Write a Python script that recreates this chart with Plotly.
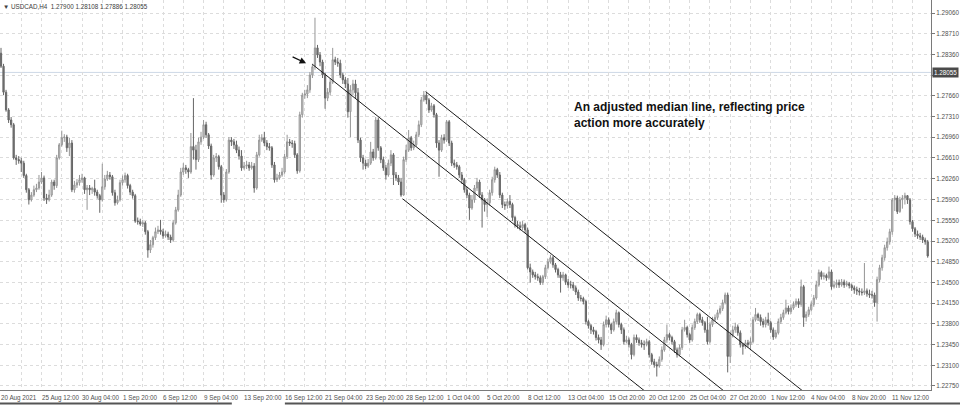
import plotly.graph_objects as go

# ---------------- data (USDCAD, H4) ----------------
first_open = 1.2838
close = [1.2816,1.2772,1.2742,1.2725,1.2717,1.2661,1.2658,1.2656,1.2652,1.2631,
1.2607,1.2590,1.2598,1.2607,1.2610,1.2620,1.2627,1.2593,1.2590,1.2598,
1.2620,1.2614,1.2661,1.2683,1.2695,1.2696,1.2678,1.2686,1.2607,1.2615,
1.2619,1.2624,1.2627,1.2607,1.2610,1.2607,1.2609,1.2603,1.2597,1.2590,
1.2612,1.2625,1.2632,1.2629,1.2602,1.2585,1.2590,1.2619,1.2624,1.2631,
1.2614,1.2603,1.2597,1.2554,1.2553,1.2549,1.2551,1.2536,1.2505,1.2514,
1.2526,1.2536,1.2539,1.2536,1.2529,1.2532,1.2527,1.2522,1.2551,1.2573,
1.2598,1.2637,1.2644,1.2641,1.2637,1.2680,1.2674,1.2658,1.2688,1.2696,
1.2717,1.2700,1.2681,1.2632,1.2661,1.2663,1.2646,1.2598,1.2590,1.2637,
1.2691,1.2688,1.2683,1.2674,1.2664,1.2644,1.2647,1.2649,1.2644,1.2647,
1.2610,1.2666,1.2691,1.2695,1.2686,1.2680,1.2678,1.2649,1.2624,1.2627,
1.2632,1.2637,1.2663,1.2688,1.2686,1.2685,1.2666,1.2639,1.2734,1.2767,
1.2769,1.2776,1.2801,1.2815,1.2847,1.2835,1.2823,1.2801,1.2762,1.2772,
1.2789,1.2827,1.2823,1.2821,1.2801,1.2793,1.2786,1.2739,1.2776,1.2786,
1.2771,1.2691,1.2661,1.2652,1.2647,1.2652,1.2671,1.2661,1.2725,1.2678,
1.2658,1.2644,1.2632,1.2652,1.2666,1.2632,1.2627,1.2620,1.2598,1.2658,
1.2674,1.2695,1.2678,1.2683,1.2700,1.2717,1.2759,1.2767,1.2759,1.2742,
1.2749,1.2734,1.2686,1.2674,1.2695,1.2691,1.2722,1.2686,1.2652,1.2649,
1.2646,1.2632,1.2624,1.2607,1.2598,1.2576,1.2590,1.2610,1.2620,1.2598,
1.2590,1.2582,1.2585,1.2602,1.2624,1.2641,1.2632,1.2598,1.2582,1.2580,
1.2587,1.2582,1.2560,1.2548,1.2546,1.2543,1.2548,1.2539,1.2475,1.2468,
1.2463,1.2460,1.2458,1.2450,1.2460,1.2475,1.2485,1.2492,1.2480,1.2472,
1.2463,1.2458,1.2463,1.2451,1.2446,1.2446,1.2441,1.2434,1.2424,1.2423,
1.2418,1.2384,1.2377,1.2370,1.2367,1.2357,1.2353,1.2345,1.2379,1.2387,
1.2379,1.2370,1.2384,1.2399,1.2379,1.2370,1.2350,1.2353,1.2345,1.2328,
1.2357,1.2353,1.2348,1.2345,1.2345,1.2350,1.2328,1.2316,1.2311,1.2309,
1.2320,1.2336,1.2353,1.2362,1.2357,1.2350,1.2336,1.2328,1.2340,1.2370,
1.2374,1.2362,1.2353,1.2374,1.2384,1.2396,1.2387,1.2382,1.2370,1.2350,
1.2379,1.2387,1.2391,1.2399,1.2406,1.2416,1.2429,1.2325,1.2362,1.2370,
1.2375,1.2365,1.2345,1.2342,1.2348,1.2345,1.2350,1.2387,1.2396,1.2391,
1.2384,1.2379,1.2387,1.2382,1.2370,1.2358,1.2365,1.2384,1.2391,1.2399,
1.2407,1.2401,1.2407,1.2413,1.2418,1.2413,1.2443,1.2391,1.2396,1.2404,
1.2413,1.2424,1.2446,1.2467,1.2460,1.2462,1.2458,1.2468,1.2443,1.2446,
1.2450,1.2446,1.2451,1.2446,1.2448,1.2445,1.2441,1.2438,1.2436,1.2434,
1.2433,1.2436,1.2431,1.2429,1.2429,1.2416,1.2455,1.2475,1.2492,1.2509,
1.2519,1.2536,1.2590,1.2593,1.2570,1.2590,1.2593,1.2597,1.2590,1.2553,
1.2541,1.2532,1.2529,1.2527,1.2522,1.2519,1.2495]

high = [1.2847,1.2820,1.2776,1.2745,1.2730,1.2720,1.2666,1.2664,1.2661,1.2656,
1.2634,1.2610,1.2603,1.2614,1.2617,1.2632,1.2637,1.2631,1.2600,1.2607,
1.2624,1.2624,1.2666,1.2686,1.2707,1.2701,1.2700,1.2695,1.2691,1.2622,
1.2625,1.2632,1.2634,1.2629,1.2615,1.2615,1.2612,1.2624,1.2607,1.2600,
1.2651,1.2632,1.2639,1.2637,1.2632,1.2607,1.2597,1.2624,1.2631,1.2636,
1.2634,1.2617,1.2607,1.2600,1.2560,1.2558,1.2556,1.2554,1.2539,1.2522,
1.2529,1.2543,1.2546,1.2556,1.2541,1.2538,1.2536,1.2531,1.2556,1.2578,
1.2607,1.2644,1.2652,1.2649,1.2644,1.2703,1.2762,1.2683,1.2695,1.2705,
1.2725,1.2722,1.2703,1.2685,1.2666,1.2669,1.2666,1.2649,1.2603,1.2642,
1.2696,1.2696,1.2693,1.2690,1.2680,1.2674,1.2654,1.2656,1.2654,1.2654,
1.2652,1.2671,1.2700,1.2701,1.2705,1.2691,1.2686,1.2681,1.2654,1.2634,
1.2637,1.2644,1.2668,1.2700,1.2693,1.2691,1.2690,1.2669,1.2739,1.2771,
1.2776,1.2784,1.2806,1.2820,1.2898,1.2852,1.2840,1.2827,1.2805,1.2779,
1.2796,1.2847,1.2832,1.2830,1.2827,1.2805,1.2798,1.2796,1.2784,1.2793,
1.2793,1.2779,1.2695,1.2666,1.2658,1.2659,1.2688,1.2676,1.2730,1.2729,
1.2681,1.2663,1.2649,1.2658,1.2674,1.2669,1.2637,1.2632,1.2627,1.2663,
1.2683,1.2708,1.2698,1.2690,1.2705,1.2724,1.2764,1.2774,1.2772,1.2762,
1.2754,1.2752,1.2737,1.2691,1.2700,1.2701,1.2725,1.2725,1.2690,1.2658,
1.2654,1.2649,1.2637,1.2627,1.2612,1.2602,1.2598,1.2615,1.2627,1.2624,
1.2603,1.2593,1.2592,1.2607,1.2629,1.2646,1.2644,1.2637,1.2602,1.2587,
1.2592,1.2598,1.2585,1.2563,1.2554,1.2553,1.2554,1.2551,1.2543,1.2482,
1.2472,1.2468,1.2465,1.2462,1.2463,1.2480,1.2490,1.2497,1.2495,1.2483,
1.2475,1.2468,1.2468,1.2465,1.2456,1.2453,1.2451,1.2445,1.2438,1.2429,
1.2426,1.2421,1.2387,1.2380,1.2375,1.2370,1.2362,1.2358,1.2384,1.2394,
1.2391,1.2382,1.2389,1.2404,1.2401,1.2382,1.2374,1.2360,1.2357,1.2348,
1.2362,1.2362,1.2357,1.2353,1.2352,1.2355,1.2353,1.2331,1.2321,1.2316,
1.2325,1.2342,1.2358,1.2379,1.2365,1.2360,1.2353,1.2340,1.2345,1.2375,
1.2387,1.2377,1.2365,1.2379,1.2389,1.2399,1.2399,1.2392,1.2385,1.2392,
1.2384,1.2392,1.2396,1.2404,1.2411,1.2421,1.2433,1.2433,1.2367,1.2377,
1.2382,1.2379,1.2369,1.2348,1.2353,1.2353,1.2357,1.2392,1.2407,1.2399,
1.2396,1.2389,1.2392,1.2399,1.2385,1.2374,1.2370,1.2389,1.2397,1.2404,
1.2421,1.2411,1.2413,1.2418,1.2423,1.2423,1.2455,1.2446,1.2401,1.2409,
1.2418,1.2429,1.2453,1.2472,1.2470,1.2467,1.2465,1.2477,1.2472,1.2453,
1.2455,1.2455,1.2456,1.2455,1.2453,1.2451,1.2448,1.2445,1.2443,1.2441,
1.2440,1.2483,1.2440,1.2438,1.2436,1.2433,1.2460,1.2480,1.2497,1.2514,
1.2526,1.2541,1.2593,1.2598,1.2597,1.2595,1.2598,1.2602,1.2598,1.2593,
1.2556,1.2544,1.2538,1.2534,1.2531,1.2526,1.2522]

low = [1.2813,1.2767,1.2739,1.2720,1.2712,1.2658,1.2649,1.2651,1.2637,1.2627,
1.2602,1.2582,1.2587,1.2595,1.2603,1.2607,1.2617,1.2588,1.2583,1.2587,
1.2595,1.2607,1.2610,1.2658,1.2680,1.2688,1.2671,1.2664,1.2603,1.2602,
1.2610,1.2614,1.2619,1.2600,1.2573,1.2598,1.2600,1.2597,1.2592,1.2568,
1.2587,1.2607,1.2622,1.2624,1.2597,1.2580,1.2582,1.2587,1.2614,1.2619,
1.2609,1.2598,1.2592,1.2551,1.2548,1.2546,1.2544,1.2531,1.2492,1.2500,
1.2509,1.2522,1.2532,1.2531,1.2524,1.2526,1.2522,1.2517,1.2519,1.2548,
1.2570,1.2595,1.2632,1.2634,1.2627,1.2634,1.2658,1.2641,1.2654,1.2683,
1.2693,1.2695,1.2676,1.2624,1.2629,1.2654,1.2641,1.2585,1.2585,1.2587,
1.2634,1.2681,1.2676,1.2669,1.2658,1.2639,1.2641,1.2642,1.2639,1.2641,
1.2602,1.2607,1.2663,1.2688,1.2681,1.2674,1.2673,1.2644,1.2619,1.2620,
1.2624,1.2629,1.2634,1.2659,1.2681,1.2678,1.2661,1.2634,1.2636,1.2729,
1.2761,1.2762,1.2771,1.2796,1.2810,1.2830,1.2816,1.2796,1.2744,1.2757,
1.2767,1.2786,1.2818,1.2815,1.2796,1.2786,1.2779,1.2729,1.2696,1.2767,
1.2762,1.2686,1.2654,1.2641,1.2642,1.2644,1.2649,1.2656,1.2658,1.2673,
1.2652,1.2639,1.2624,1.2629,1.2647,1.2615,1.2622,1.2615,1.2595,1.2597,
1.2654,1.2671,1.2673,1.2674,1.2680,1.2696,1.2713,1.2756,1.2752,1.2737,
1.2739,1.2729,1.2678,1.2629,1.2671,1.2685,1.2688,1.2681,1.2647,1.2644,
1.2641,1.2627,1.2617,1.2602,1.2593,1.2556,1.2573,1.2585,1.2605,1.2593,
1.2543,1.2570,1.2561,1.2580,1.2597,1.2619,1.2627,1.2593,1.2576,1.2573,
1.2575,1.2576,1.2554,1.2543,1.2541,1.2538,1.2539,1.2534,1.2472,1.2450,
1.2458,1.2455,1.2453,1.2446,1.2446,1.2456,1.2472,1.2482,1.2475,1.2467,
1.2458,1.2433,1.2453,1.2446,1.2441,1.2440,1.2436,1.2429,1.2419,1.2418,
1.2413,1.2379,1.2372,1.2363,1.2362,1.2352,1.2347,1.2336,1.2342,1.2374,
1.2374,1.2363,1.2367,1.2379,1.2374,1.2363,1.2345,1.2347,1.2340,1.2320,
1.2325,1.2348,1.2343,1.2340,1.2336,1.2342,1.2323,1.2311,1.2306,1.2291,
1.2306,1.2316,1.2333,1.2348,1.2352,1.2345,1.2331,1.2323,1.2325,1.2336,
1.2367,1.2357,1.2348,1.2350,1.2370,1.2380,1.2382,1.2377,1.2365,1.2345,
1.2347,1.2375,1.2384,1.2387,1.2396,1.2402,1.2413,1.2298,1.2314,1.2357,
1.2365,1.2360,1.2340,1.2328,1.2338,1.2340,1.2336,1.2347,1.2384,1.2385,
1.2377,1.2374,1.2374,1.2377,1.2365,1.2353,1.2355,1.2362,1.2380,1.2387,
1.2396,1.2396,1.2397,1.2404,1.2409,1.2407,1.2409,1.2375,1.2384,1.2392,
1.2401,1.2409,1.2421,1.2443,1.2455,1.2455,1.2453,1.2455,1.2438,1.2440,
1.2441,1.2441,1.2443,1.2441,1.2443,1.2440,1.2436,1.2431,1.2429,1.2428,
1.2428,1.2429,1.2426,1.2424,1.2423,1.2409,1.2384,1.2450,1.2470,1.2487,
1.2504,1.2514,1.2531,1.2571,1.2566,1.2568,1.2575,1.2582,1.2583,1.2548,
1.2536,1.2527,1.2524,1.2522,1.2517,1.2514,1.2492]

open_ = [first_open] + close[:-1]
bars = list(range(len(close)))

# time axis labels (one every 16 H4 bars)
date_label_bars = [0, 16, 32, 48, 64, 80, 96, 112, 128, 144, 160, 176,
                   192, 208, 224, 240, 256, 272, 288, 304, 320, 336, 352]
date_labels = ["20 Aug 2021", "25 Aug 12:00", "30 Aug 04:00", "1 Sep 20:00",
               "6 Sep 12:00", "9 Sep 04:00", "13 Sep 20:00", "16 Sep 12:00",
               "21 Sep 04:00", "23 Sep 20:00", "28 Sep 12:00", "1 Oct 04:00",
               "5 Oct 20:00", "8 Oct 12:00", "13 Oct 04:00", "15 Oct 20:00",
               "20 Oct 12:00", "25 Oct 04:00", "27 Oct 20:00", "1 Nov 12:00",
               "4 Nov 04:00", "8 Nov 20:00", "11 Nov 12:00"]
grid_bars = list(range(0, 368, 8))

price_ticks = [1.2275, 1.2310, 1.2345, 1.2380, 1.2415, 1.2450, 1.2485, 1.2520,
               1.2555, 1.2590, 1.2626, 1.2661, 1.2696, 1.2731, 1.2766, 1.2801,
               1.2836, 1.2871, 1.2906]
price_tick_text = ["1.22750", "1.23100", "1.23450", "1.23800", "1.24150",
                   "1.24500", "1.24850", "1.25200", "1.25550", "1.25900",
                   "1.26260", "1.26610", "1.26960", "1.27310", "1.27660", "",
                   "1.28360", "1.28710", "1.29060"]
last_price = 1.28055
header = "\u25BC USDCAD,H4  1.27900 1.28108 1.27886 1.28055"

# adjusted median line (pitchfork): anchor bar, anchor price, common slope per bar
pf_slope = -0.000340
pf_anchors = {"median": (122.95, 1.28193), "upper": (167.7, 1.27730), "lower": (158.6, 1.25917)}
pf_length = 220

arrow_tip = (120.5, 1.28210)
note_pos = (225.5, 1.27620)
note_text = "<b>An adjusted median line, reflecting price<br>action more accurately</b>"

FONT = "Liberation Sans"
LBL = "#505050"
GRID = "#dcdcdc"

fig = go.Figure()
fig.add_trace(go.Candlestick(
    x=bars, open=open_, high=high, low=low, close=close,
    increasing=dict(line=dict(color="#959595", width=1), fillcolor="#d6d6d6"),
    decreasing=dict(line=dict(color="#666666", width=1), fillcolor="#777777"),
    whiskerwidth=0, showlegend=False, hoverinfo="skip"))

for name, (b0, p0) in pf_anchors.items():
    fig.add_trace(go.Scatter(
        x=[b0, b0 + pf_length], y=[p0, p0 + pf_slope * pf_length],
        mode="lines", line=dict(color="#1a1a1a", width=1),
        showlegend=False, hoverinfo="skip"))

shapes = [
    dict(type="line", xref="paper", x0=0, x1=1, yref="y", y0=last_price, y1=last_price,
         line=dict(color="#cdd8e6", width=1), layer="below"),
    dict(type="line", xref="paper", x0=0, x1=0.249, yref="paper", y0=-0.0346, y1=-0.0346,
         line=dict(color="#555555", width=2)),
    dict(type="line", xref="paper", x0=0.306, x1=1.04, yref="paper", y0=-0.0346, y1=-0.0346,
         line=dict(color="#555555", width=2)),
]

annotations = []
for b, t in zip(date_label_bars, date_labels):
    annotations.append(dict(x=b, xref="x", y=-0.004, yref="paper", text=t,
                            showarrow=False, xanchor="left", yanchor="top",
                            font=dict(family=FONT, size=6.3, color=LBL), xshift=-2))
annotations.append(dict(x=0, xref="paper", y=1, yref="paper", text=header,
                        showarrow=False, xanchor="left", yanchor="top", xshift=1, yshift=-1,
                        font=dict(family=FONT, size=6.3, color="#404040")))
annotations.append(dict(x=1, xref="paper", y=last_price, yref="y", text="1.28055",
                        showarrow=False, xanchor="left", yanchor="middle", xshift=1,
                        bgcolor="#4a4a4a", borderpad=1,
                        font=dict(family=FONT, size=6.3, color="white")))
annotations.append(dict(x=arrow_tip[0], y=arrow_tip[1], xref="x", yref="y", text="",
                        showarrow=True, ax=-15, ay=-7, arrowhead=2, arrowsize=1,
                        arrowwidth=1.3, arrowcolor="#111111"))
annotations.append(dict(x=note_pos[0], y=note_pos[1], xref="x", yref="y", text=note_text,
                        showarrow=False, xanchor="left", yanchor="top", align="left",
                        font=dict(family=FONT, size=12, color="#111111")))

fig.update_layout(
    width=960, height=405,
    margin=dict(l=0, r=29, t=0, b=15),
    paper_bgcolor="white", plot_bgcolor="white",
    shapes=shapes, annotations=annotations,
    xaxis=dict(range=[-0.395, 367.3], tickvals=grid_bars, showticklabels=False,
               showgrid=True, gridcolor=GRID, griddash="dot", gridwidth=1,
               zeroline=False, showline=True, linecolor="#7a7a7a", linewidth=1,
               rangeslider=dict(visible=False), fixedrange=True),
    yaxis=dict(side="right", range=[1.22682, 1.29280], tickvals=price_ticks,
               ticktext=price_tick_text, showgrid=True, gridcolor=GRID,
               griddash="dot", gridwidth=1, zeroline=False, showline=True,
               linecolor="#7a7a7a", linewidth=1, ticks="outside", ticklen=3,
               tickcolor="#7a7a7a", tickfont=dict(family=FONT, size=6.3, color=LBL),
               fixedrange=True),
)

fig.write_html("out.html", config={"displayModeBar": False},
               post_script="document.body.style.margin='0';document.body.style.overflow='hidden';")
